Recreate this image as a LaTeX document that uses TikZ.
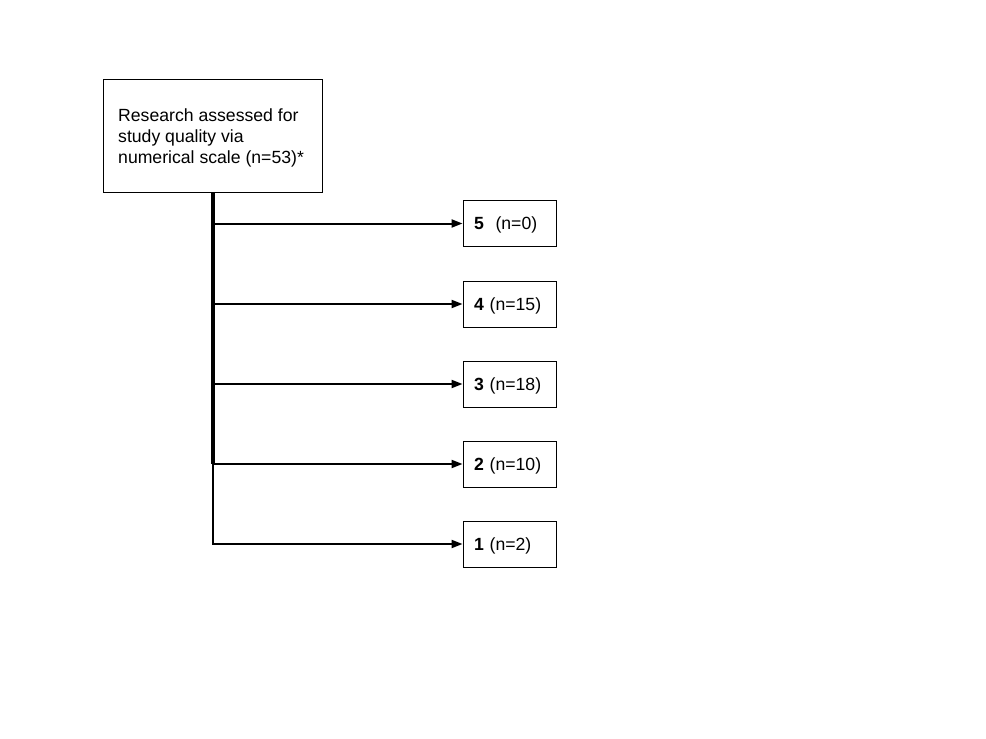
\documentclass[tikz,border=0pt]{standalone}
\usepackage{fontspec}
\setmainfont{Liberation Sans}
\usetikzlibrary{arrows.meta}
\begin{document}
\begin{tikzpicture}[x=1bp,y=-1bp,
  mainbox/.style={draw=black,line width=1bp,minimum width=218bp,minimum height=112bp},
  maintext/.style={inner sep=0pt,align=left,font=\fontsize{17.7}{21}\selectfont},
  scorebox/.style={draw=black,line width=1bp,minimum width=93bp,minimum height=46bp,
    text width=71bp,inner xsep=11bp,inner ysep=0pt,text height=12.7bp,text depth=0pt,
    align=left,font=\fontsize{17.7}{21}\selectfont},
  link/.style={line width=2bp,-{Triangle[length=11bp,width=8bp]}}]
\useasboundingbox[fill=white] (0,0) rectangle (986,739);
\node[mainbox] (top) at (213,136) {};
\node[maintext,anchor=base west] (toptext) at (118,163) {Research assessed for\\study quality via\\numerical scale (n=53)*};
\node[scorebox] (b5) at (509.5,223.5) {\textbf{5}\ \ (n=0)};
\node[scorebox] (b4) at (509.5,304) {\textbf{4} (n=15)};
\node[scorebox] (b3) at (509.5,384) {\textbf{3} (n=18)};
\node[scorebox] (b2) at (509.5,464) {\textbf{2} (n=10)};
\node[scorebox] (b1) at (509.5,544) {\textbf{1} (n=2)};
\draw[line width=2bp] (top.south) -- (top.south |- b1.west);
\draw[line width=4bp] (top.south) -- (top.south |- b2.west);
\foreach \b in {b5,b4,b3,b2,b1}
  \draw[link] ([xshift=-1bp]top.south |- \b.west) -- (\b.west);
\end{tikzpicture}
\end{document}
